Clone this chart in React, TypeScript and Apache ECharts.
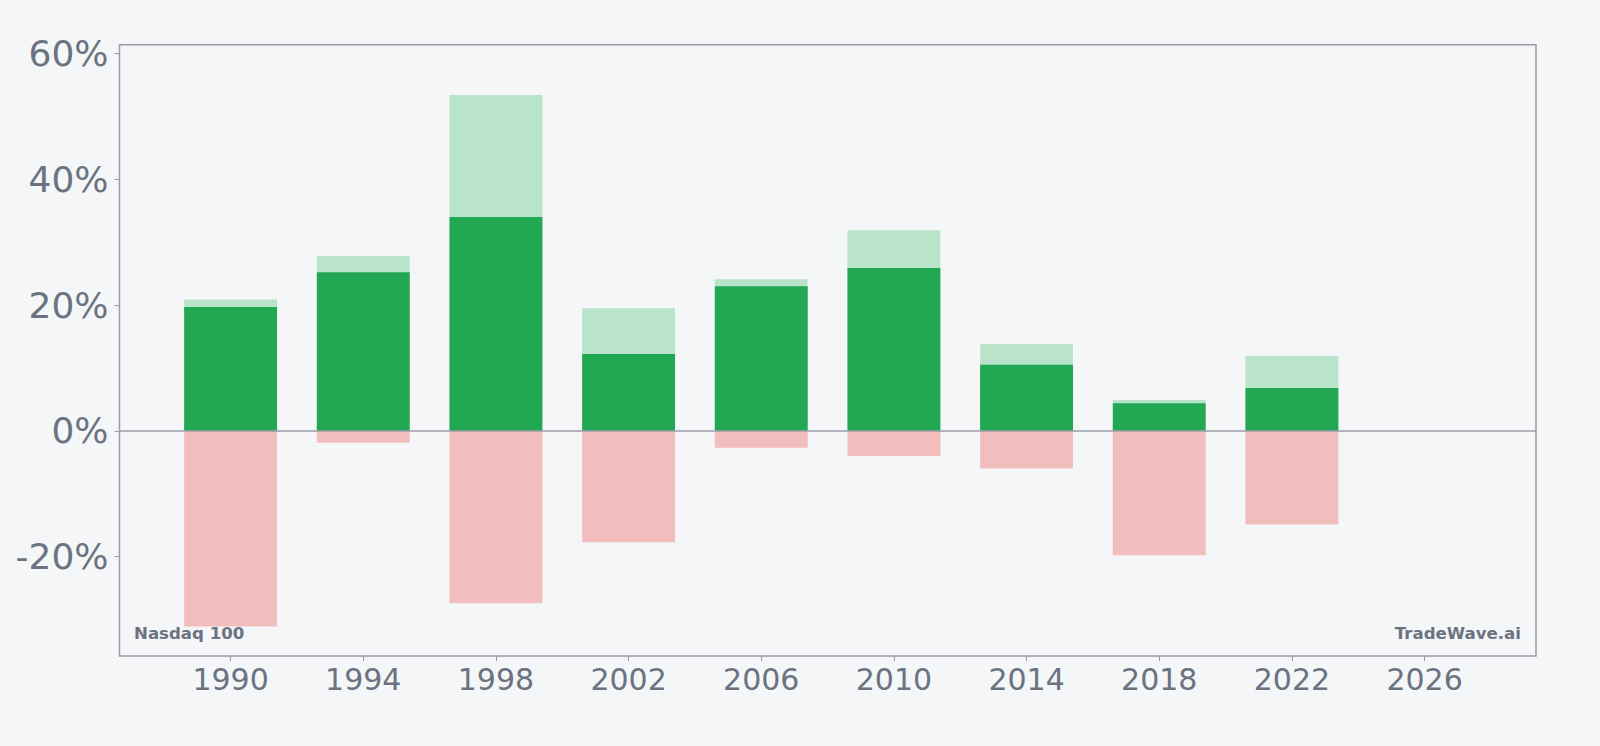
import React, { useEffect, useRef } from "react";
import * as echarts from "echarts";

const years = [1990, 1994, 1998, 2002, 2006, 2010, 2014, 2018, 2022];
const maxGain = [20.9, 27.8, 53.4, 19.5, 24.1, 31.9, 13.8, 4.9, 11.9];
const periodReturn = [19.7, 25.2, 34.0, 12.2, 23.0, 25.9, 10.5, 4.4, 6.8];
const maxDrawdown = [-31.1, -1.9, -27.4, -17.7, -2.7, -4.0, -6.0, -19.8, -14.9];
const xTicks = [1990, 1994, 1998, 2002, 2006, 2010, 2014, 2018, 2022, 2026];
const yTicks = [-20, 0, 20, 40, 60];

const BAR_YEARS = 2.8;
const GRID_COLOR = "#9a9ba8";
const TEXT_COLOR = "#6b7280";

function makeSeries(name: string, values: number[], color: string, z: number) {
  return {
    name,
    type: "custom",
    z,
    data: years.map((y, i) => [y, values[i]]),
    encode: { x: 0, y: 1 },
    renderItem: (params: any, api: any) => {
      const x = api.value(0);
      const v = api.value(1);
      const p1 = api.coord([x - BAR_YEARS / 2, v]);
      const p2 = api.coord([x + BAR_YEARS / 2, 0]);
      const top = Math.min(p1[1], p2[1]);
      const h = Math.abs(p1[1] - p2[1]);
      return {
        type: "rect",
        shape: { x: p1[0], y: top, width: p2[0] - p1[0], height: h },
        style: { fill: color },
      };
    },
  };
}

export default function App() {
  const ref = useRef<HTMLDivElement>(null);
  useEffect(() => {
    document.body.style.margin = "0";
    const chart = echarts.init(ref.current!, null, { renderer: "svg" });
    const option: any = {
      animation: false,
      backgroundColor: "#f4f6f8",
      grid: {
        left: 119.5,
        right: 64,
        top: 44.7,
        bottom: 90,
        show: true,
        borderColor: GRID_COLOR,
        borderWidth: 1.5,
        backgroundColor: "transparent",
      },
      xAxis: {
        type: "value",
        min: 1986.65,
        max: 2029.36,
        splitLine: { show: false },
        axisLine: { show: false, onZero: false },
        axisTick: {
          show: true,
          length: 5,
          lineStyle: { color: GRID_COLOR, width: 1 },
          customValues: xTicks,
        },
        axisLabel: {
          customValues: xTicks,
          color: TEXT_COLOR,
          fontSize: 30,
          fontFamily: "DejaVu Sans",
          margin: 8,
          formatter: (v: number) => String(v),
        },
      },
      yAxis: {
        type: "value",
        min: -35.8,
        max: 61.4,
        splitLine: { show: false },
        axisLine: { show: false, onZero: false },
        axisTick: {
          show: true,
          length: 5,
          lineStyle: { color: GRID_COLOR, width: 1 },
          customValues: yTicks,
        },
        axisLabel: {
          customValues: yTicks,
          color: TEXT_COLOR,
          fontSize: 36,
          fontFamily: "DejaVu Sans",
          margin: 11,
          formatter: (v: number) => `${v}%`,
        },
      },
      graphic: [
        {
          type: "text",
          left: 134,
          top: 625,
          style: {
            text: "Nasdaq 100",
            fill: TEXT_COLOR,
            font: "bold 16.6px 'DejaVu Sans'",
          },
        },
        {
          type: "text",
          right: 1600 - 1521,
          top: 625,
          style: {
            text: "TradeWave.ai",
            fill: TEXT_COLOR,
            font: "bold 16.6px 'DejaVu Sans'",
          },
        },
      ],
      series: [
        makeSeries("Max gain", maxGain, "#b9e4ca", 2),
        makeSeries("Return", periodReturn, "#22a852", 3),
        {
          ...makeSeries("Max drawdown", maxDrawdown, "#f2bdbd", 2),
          markLine: {
            silent: true,
            symbol: "none",
            label: { show: false },
            lineStyle: { color: GRID_COLOR, width: 1.5, type: "solid" },
            data: [{ yAxis: 0 }],
            z: 10,
          },
        },
      ],
    };
    chart.setOption(option);
    return () => chart.dispose();
  }, []);
  return <div ref={ref} style={{ width: 1600, height: 746 }} />;
}
